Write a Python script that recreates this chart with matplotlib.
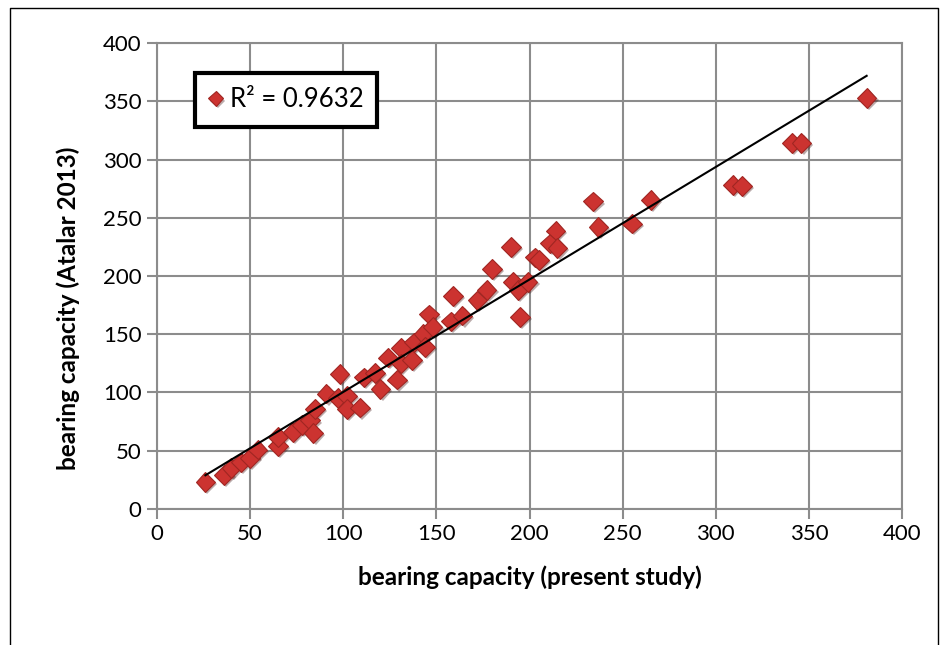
import numpy as np
import matplotlib
matplotlib.use('Agg')
import matplotlib.pyplot as plt
import matplotlib.patheffects as pe

plt.rcParams['font.family'] = ['Lato', 'DejaVu Sans']

# bearing capacity: present study (x) vs Atalar 2013 (y)
present = [26, 36, 40, 45, 50, 54, 65, 65, 73, 78, 82, 84, 85, 91, 98, 97, 102, 102,
           109, 111, 117, 120, 124, 129, 131, 131, 137, 138, 143, 144, 146, 148, 158,
           159, 164, 172, 177, 180, 190, 191, 194, 195, 199, 203, 205, 211, 214, 215,
           234, 237, 255, 265, 309, 314, 341, 346, 381]
atalar = [23, 29, 35, 40, 44, 51, 54, 62, 66, 72, 76, 65, 86, 99, 116, 95, 97, 86,
          87, 113, 117, 103, 130, 111, 138, 125, 128, 143, 150, 139, 167, 156, 161,
          183, 166, 179, 188, 206, 225, 195, 188, 165, 195, 216, 214, 228, 239, 224,
          264, 242, 245, 265, 278, 277, 314, 314, 353]
r2_label = 'R² = 0.9632'

x = np.array(present, dtype=float)
y = np.array(atalar, dtype=float)

fig = plt.figure(figsize=(9.41, 6.45), dpi=100)
ax = fig.add_axes([0.1668, 0.2109, 0.7918, 0.7224])

# outer chart frame (cropped at the bottom)
frame = plt.Line2D([10/941, 10/941, 938/941, 938/941], [0, 1-8/645, 1-8/645, 0],
                   transform=fig.transFigure, color='black', lw=1)
fig.lines.append(frame)

ax.plot(x, y, linestyle='none', marker='D', ms=10, mfc='#CC3330', mec='#A02622',
        mew=0.8, zorder=3,
        path_effects=[pe.SimplePatchShadow(offset=(1.5, -1.5), alpha=0.35), pe.Normal()],
        label=r2_label)

k, b = np.polyfit(x, y, 1)
xs = np.array([x.min(), x.max()])
ax.plot(xs, k * xs + b, color='black', lw=1.5, zorder=4)

ax.set_xlim(0, 400)
ax.set_ylim(0, 400)
ax.set_xticks(np.arange(0, 401, 50))
ax.set_yticks(np.arange(0, 401, 50))
ax.grid(True, color='#8c8c8c', lw=1.5)
ax.set_axisbelow(True)
for s in ax.spines.values():
    s.set_color('#8c8c8c')
    s.set_linewidth(1.5)
ax.tick_params(direction='out', length=7, width=1.5, color='#8c8c8c',
               labelsize=16, pad=4)

ax.set_xlabel('bearing capacity (present study)', fontsize=17.5, fontweight='bold')
ax.set_ylabel('bearing capacity (Atalar 2013)', fontsize=17.5, fontweight='bold')
ax.xaxis.set_label_coords(0.5, -0.122)
ax.yaxis.set_label_coords(-0.103, 0.431)

leg = ax.legend(loc='upper left', bbox_to_anchor=(0.051, 0.935), fontsize=18.5,
                frameon=True, fancybox=False, handlelength=0.5, handletextpad=0.3,
                borderpad=0.55, borderaxespad=0, markerscale=0.75)
leg.get_frame().set_edgecolor('black')
leg.get_frame().set_linewidth(3)
leg.get_frame().set_alpha(1)

fig.savefig('out.png', dpi=100)
